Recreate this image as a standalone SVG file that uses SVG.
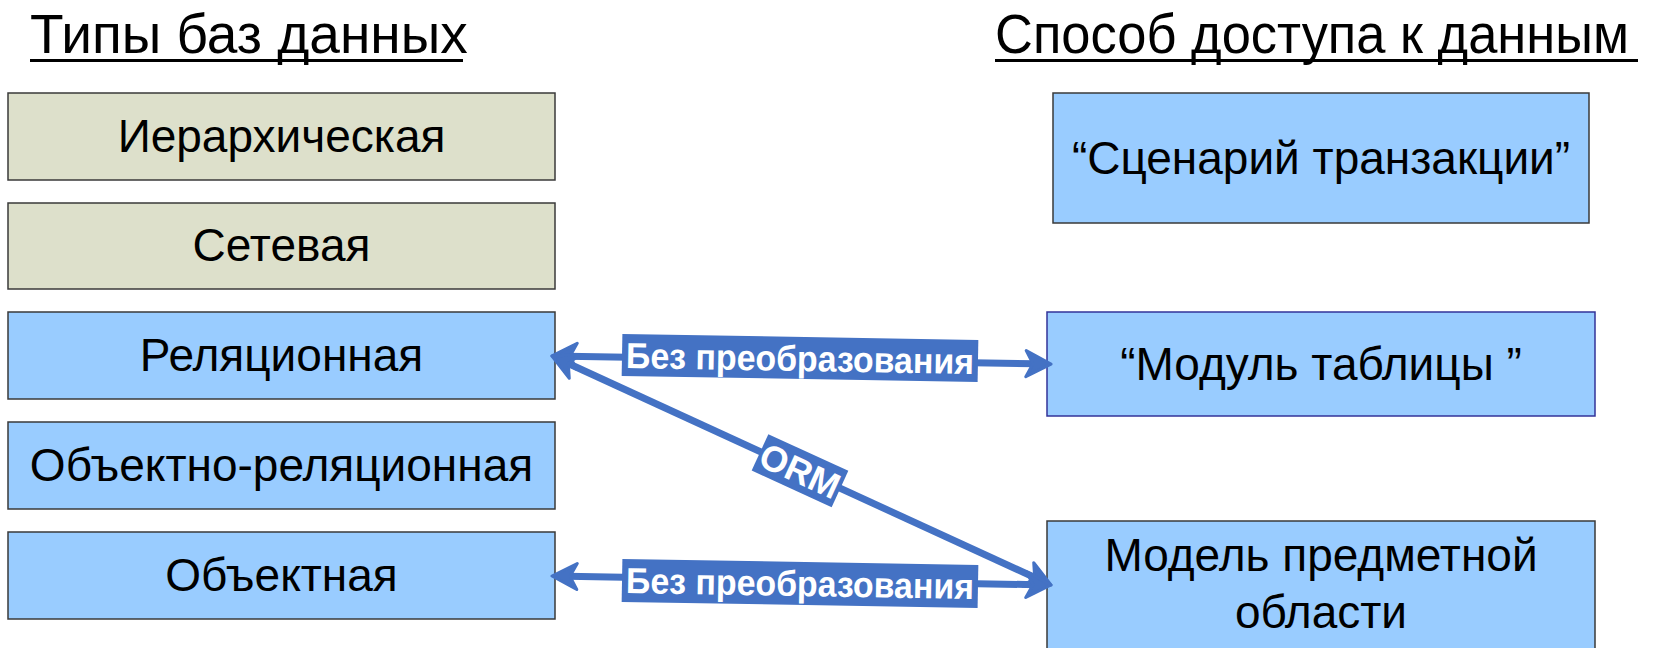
<svg xmlns="http://www.w3.org/2000/svg" width="1659" height="648" viewBox="0 0 1659 648">
  <style>
    .title { font-family: "Liberation Sans", Arial, sans-serif; font-size: 55px; fill: #000; }
    .ul { stroke: #000; stroke-width: 3; }
    .box-g { fill: #DDE0CB; stroke: #3a3a3a; stroke-width: 1.5; }
    .box-b { fill: #99CCFF; stroke: #3a3a3a; stroke-width: 1.5; }
    .box-n { fill: #99CCFF; stroke: #333399; stroke-width: 1.5; }
    .lbl { font-family: "Liberation Sans", Arial, sans-serif; font-size: 46px; fill: #000; text-anchor: middle; }
    .conn { stroke: #4472C4; stroke-width: 7; fill: none; }
    .tag { fill: #4472C4; }
    .tagtxt { font-family: "Liberation Sans", Arial, sans-serif; font-size: 36px; font-weight: bold; fill: #fff; text-anchor: middle; }
  </style>
  <defs>
    <marker id="ah" viewBox="-28 -15 30 30" refX="-15" refY="0" markerWidth="30" markerHeight="30" markerUnits="userSpaceOnUse" orient="auto-start-reverse">
      <path d="M0,0 L-25,-13 L-18,0 L-25,13 Z" fill="#4472C4" stroke="#4472C4" stroke-width="3" stroke-linejoin="round"/>
    </marker>
  </defs>
  <rect width="1659" height="648" fill="#fff"/>

  <g id="title-left">
    <text class="title" x="30" y="53">Типы баз данных</text>
    <line class="ul" x1="30" y1="60.5" x2="463" y2="60.5"/>
  </g>
  <g id="title-right">
    <text class="title" x="995" y="53" textLength="634" lengthAdjust="spacingAndGlyphs">Способ доступа к данным</text>
    <line class="ul" x1="995" y1="60.5" x2="1638" y2="60.5"/>
  </g>

  <g id="node-hier">
    <rect class="box-g" x="8" y="93" width="547" height="87"/>
    <text class="lbl" x="281.5" y="152">Иерархическая</text>
  </g>
  <g id="node-net">
    <rect class="box-g" x="8" y="203" width="547" height="86"/>
    <text class="lbl" x="281.5" y="261">Сетевая</text>
  </g>
  <g id="node-rel">
    <rect class="box-b" x="8" y="312" width="547" height="87"/>
    <text class="lbl" x="281.5" y="371">Реляционная</text>
  </g>
  <g id="node-objrel">
    <rect class="box-b" x="8" y="422" width="547" height="87"/>
    <text class="lbl" x="281.5" y="481">Объектно-реляционная</text>
  </g>
  <g id="node-obj">
    <rect class="box-b" x="8" y="532" width="547" height="87"/>
    <text class="lbl" x="281.5" y="591">Объектная</text>
  </g>

  <g id="node-ts">
    <rect class="box-b" x="1053" y="93" width="536" height="130"/>
    <text class="lbl" x="1321" y="174">“Сценарий транзакции”</text>
  </g>
  <g id="node-tm">
    <rect class="box-n" x="1047" y="312" width="548" height="104"/>
    <text class="lbl" x="1321" y="380">“Модуль таблицы ”</text>
  </g>
  <g id="node-dm">
    <rect class="box-b" x="1047" y="521" width="548" height="140"/>
    <text class="lbl" x="1321" y="571">Модель предметной</text>
    <text class="lbl" x="1321" y="628">области</text>
  </g>

  <g id="connectors">
    <line class="conn" x1="567" y1="356.2" x2="1036" y2="363.8" marker-start="url(#ah)" marker-end="url(#ah)"/>
    <line class="conn" x1="565.6" y1="362.3" x2="1037.4" y2="578.7" marker-start="url(#ah)" marker-end="url(#ah)"/>
    <line class="conn" x1="567" y1="576.3" x2="1036" y2="584.7" marker-start="url(#ah)" marker-end="url(#ah)"/>
    <g transform="rotate(1 800 358)">
      <rect class="tag" x="622" y="337" width="356" height="42"/>
      <text class="tagtxt" x="800" y="371" textLength="348" lengthAdjust="spacingAndGlyphs">Без преобразования</text>
    </g>
    <g transform="rotate(24.65 800 470.7)">
      <rect class="tag" x="756" y="450.7" width="88" height="40"/>
      <text class="tagtxt" x="800" y="483.5">ORM</text>
    </g>
    <g transform="rotate(1 800 583)">
      <rect class="tag" x="622" y="562" width="356" height="43"/>
      <text class="tagtxt" x="800" y="596" textLength="348" lengthAdjust="spacingAndGlyphs">Без преобразования</text>
    </g>
  </g>
</svg>
